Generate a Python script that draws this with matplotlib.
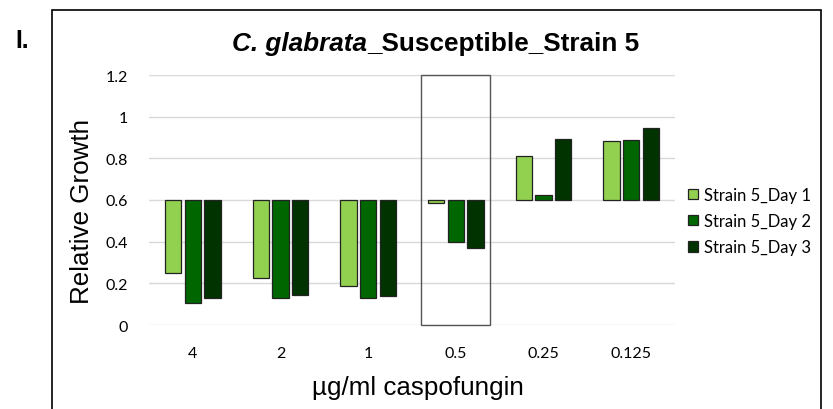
import numpy as np
import matplotlib
matplotlib.use("Agg")
from matplotlib import pyplot as plt
from matplotlib.patches import Rectangle

# data
concentrations = ["4", "2", "1", "0.5", "0.25", "0.125"]
series_names = ["Strain 5_Day 1", "Strain 5_Day 2", "Strain 5_Day 3"]
day1 = [0.252, 0.228, 0.188, 0.588, 0.813, 0.885]
day2 = [0.105, 0.132, 0.131, 0.400, 0.625, 0.889]
day3 = [0.128, 0.142, 0.137, 0.368, 0.894, 0.947]
baseline = 0.6
highlight = "0.5"

colors = ["#92D050", "#006600", "#003300"]
tick_font = "Lato"
arial = "Liberation Sans"

fig = plt.figure(figsize=(8.33, 4.10), dpi=100)
W, H = 833, 410
ax = fig.add_axes([149 / W, 1 - 326 / H, (675 - 149) / W, (326 - 76) / H])

x = np.arange(len(concentrations))
width = 0.185
step = 0.225
for i, (vals, c, name) in enumerate(zip([day1, day2, day3], colors, series_names)):
    vals = np.array(vals)
    ax.bar(x + (i - 1) * step, vals - baseline, width, bottom=baseline,
           color=c, edgecolor="#222222", linewidth=0.9, label=name, zorder=3)

# box around the 0.5 group
k = concentrations.index(highlight)
ax.add_patch(Rectangle((k - 0.395, 0), 0.79, 1.2, fill=False,
                       edgecolor="#555555", linewidth=1.0, zorder=4, clip_on=False))

ax.set_xlim(-0.5, len(concentrations) - 0.5)
ax.set_ylim(0, 1.2)
ax.set_yticks([0, 0.2, 0.4, 0.6, 0.8, 1.0, 1.2])
ax.set_yticklabels(["0", "0.2", "0.4", "0.6", "0.8", "1", "1.2"])
ax.set_xticks(x)
ax.set_xticklabels(concentrations)
ax.grid(axis="y", color="#d9d9d9", linewidth=1.0, zorder=0)
for s in ax.spines.values():
    s.set_visible(False)
ax.tick_params(length=0, labelsize=11.5, colors="#000000")
for lab in ax.get_xticklabels() + ax.get_yticklabels():
    lab.set_fontfamily(tick_font)
ax.tick_params(axis="x", pad=15)
ax.tick_params(axis="y", pad=15)

# axis titles placed like the reference
fig.text(82 / W, 1 - 211 / H, "Relative Growth", fontsize=18.7, fontfamily=arial,
         rotation=90, ha="center", va="center")
fig.text(418 / W, 1 - 388 / H, "µg/ml caspofungin", fontsize=18.7, fontfamily=arial,
         ha="center", va="center")

fig.legend(loc="center left", bbox_to_anchor=(688 / W, 1 - 222 / H),
           frameon=False, prop={"family": tick_font, "size": 12},
           handlelength=0.6, handleheight=0.6, handletextpad=0.36,
           labelspacing=0.62, borderaxespad=0, borderpad=0)

# outer frame
fig.add_artist(Rectangle((52 / W, -0.1), (821 - 52) / W, 1.1 - 10.7 / H,
                         transform=fig.transFigure, fill=False,
                         edgecolor="black", linewidth=1.2))

fig.text(15 / W, 1 - 48.3 / H, "I.", fontsize=17.7, fontweight="bold",
         fontfamily=arial, va="baseline", ha="left")

# title with italic species part
renderer = fig.canvas.get_renderer()
ty = 1 - 51 / H
t1 = fig.text(0, ty, "C. glabrata", fontsize=18.8, fontweight="bold",
              fontstyle="italic", fontfamily=arial, va="baseline", ha="left")
t2 = fig.text(0, ty, "_Susceptible_Strain 5", fontsize=18.8, fontweight="bold",
              fontfamily=arial, va="baseline", ha="left")
w1 = t1.get_window_extent(renderer).width / fig.bbox.width
w2 = t2.get_window_extent(renderer).width / fig.bbox.width
cx = 436 / W
t1.set_x(cx - (w1 + w2) / 2)
t2.set_x(cx - (w1 + w2) / 2 + w1)

fig.savefig("out.png", dpi=100)
